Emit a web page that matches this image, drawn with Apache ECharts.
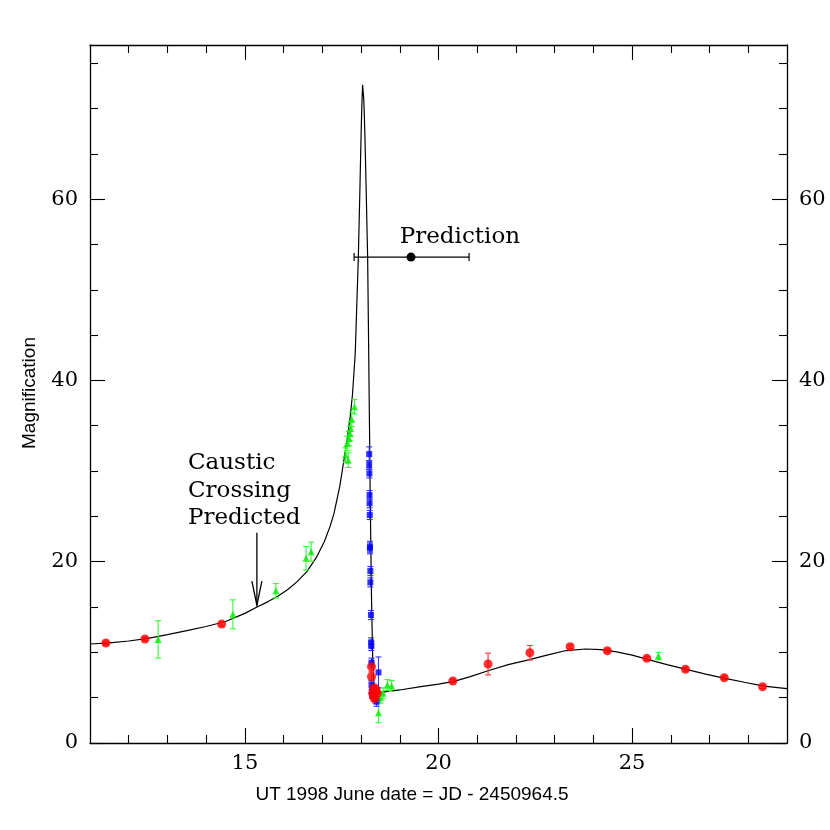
<!DOCTYPE html>
<html><head><meta charset="utf-8">
<script src="https://cdn.jsdelivr.net/npm/echarts@6/dist/echarts.min.js"></script>
<style>html,body{margin:0;padding:0;background:#fff}#c{width:830px;height:830px}</style>
</head><body><div id="c"></div>
<script>
// ---- data ----
const curveX = [11.0,11.5,12.0,12.5,13.0,13.5,14.0,14.5,15.0,15.3,15.6,15.85,16.1,16.35,16.6,16.85,17.05,17.2,17.3,17.45,17.55,17.65,17.72,17.78,17.85,17.93,17.97,18.0,18.02,18.04,18.055,18.07,18.085,18.1,18.13,18.15,18.17,18.19,18.21,18.24,18.27,18.3,18.33,18.37,18.4,18.6,19.0,19.5,20.0,20.4,20.8,21.3,21.8,22.3,22.8,23.3,23.8,24.2,24.6,25.0,25.4,25.9,26.4,26.9,27.4,27.9,28.4,29.0];
const curveY = [10.92,11.05,11.25,11.55,11.95,12.4,12.85,13.4,14.3,14.97,15.6,16.2,16.9,17.8,18.9,20.5,22.2,23.9,25.3,28.3,31.0,33.8,36.0,38.5,43.0,53.6,61.0,66.9,70.3,72.6,72.4,71.0,69.2,66.9,61.5,57.5,53.6,46.0,38.0,26.0,16.0,9.5,6.5,5.6,5.55,5.65,5.85,6.2,6.5,6.8,7.3,8.0,8.65,9.15,9.7,10.2,10.37,10.3,10.05,9.7,9.23,8.65,8.13,7.6,7.13,6.7,6.28,6.0];

const redX = [11.41,12.42,14.40,18.27,18.27,18.33,18.39,18.42,18.32,18.36,18.30,18.38,20.37,21.28,22.36,23.40,24.36,25.38,26.38,27.38,28.37];
const redY = [11.03,11.47,13.12,8.41,7.31,6.02,5.66,5.48,5.1,4.92,5.5,5.9,6.84,8.71,9.96,10.62,10.18,9.34,8.13,7.2,6.21];
const redErr = [0.2,0.2,0.2,0.5,0.5,0.5,0.5,0.5,0.5,0.5,0.5,0.5,0.2,1.2,0.8,0.2,0.2,0.2,0.2,0.2,0.2];

const greenX = [12.76,14.69,15.80,16.58,16.71,17.60,17.64,17.67,17.69,17.71,17.73,17.76,17.83,18.45,18.57,18.68,18.79,18.50,25.68];
const greenY = [11.43,14.19,16.8,20.37,21.1,31.76,33.05,31.2,33.6,34.15,34.7,35.7,37.1,3.34,5.48,6.4,6.29,5.0,9.6];
const greenErr = [2.06,1.6,0.8,1.3,1.05,0.8,0.8,0.8,0.8,0.8,0.8,0.8,0.8,1.1,0.6,0.6,0.6,0.6,0.4];

const blueX = [18.21,18.21,18.215,18.22,18.22,18.225,18.23,18.23,18.24,18.24,18.255,18.26,18.265,18.27,18.45,18.27,18.28,18.40];
const blueY = [31.87,30.66,29.74,27.35,26.44,25.15,21.65,21.47,18.97,17.72,14.12,11.1,10.7,8.86,7.79,6.4,5.48,4.55];
const blueErr = [0.8,0.5,0.5,0.5,0.5,0.5,0.6,0.6,0.5,0.5,0.5,0.5,0.5,0.5,1.7,0.5,0.5,0.5];

const predX = 19.29, predY = 53.6, predLow = 17.82, predHigh = 20.79;
const arrowX = 15.31, arrowFromY = 23.2, arrowToY = 15.2;

const xTickLabels = [15, 20, 25];
const yTickLabels = [0, 20, 40, 60];
const xMinorTicks = [12,13,14,16,17,18,19,21,22,23,24,26,27,28];
const yMinorTicks = [5,10,15,25,30,35,45,50,55,65,70,75];

const annotations = [
  {x: 19.0, y: 55.8, text: 'Prediction'},
  {x: 13.53, y: 30.9, text: 'Caustic'},
  {x: 13.53, y: 27.8, text: 'Crossing'},
  {x: 13.53, y: 24.8, text: 'Predicted'}
];

// ---- chart ----
const chart = echarts.init(document.getElementById('c'), null, {renderer: 'canvas'});
const serif = 'DejaVu Serif';
const XMIN = 11, XMAX = 29, YMIN = 0, YMAX = 77;

function xAxisDef(pos, major, withLabels) {
  return {
    type: 'value', position: pos, min: XMIN, max: XMAX, gridIndex: 0,
    axisLine: {show: !major, onZero: false, lineStyle: {color: '#000', width: 1.3}},
    axisTick: {show: true, inside: true, length: major ? 15 : 8, customValues: major ? xTickLabels : xMinorTicks,
      lineStyle: {color: '#000', width: 1.1}},
    axisLabel: {show: withLabels, customValues: xTickLabels, fontFamily: serif, fontSize: 21, color: '#000', margin: 10},
    splitLine: {show: false}
  };
}
function yAxisDef(pos, major, withLabels) {
  return {
    type: 'value', position: pos, min: YMIN, max: YMAX, gridIndex: 0,
    axisLine: {show: !major, onZero: false, lineStyle: {color: '#000', width: 1.3}},
    axisTick: {show: true, inside: true, length: major ? 15 : 8, customValues: major ? yTickLabels : yMinorTicks,
      lineStyle: {color: '#000', width: 1.1}},
    axisLabel: {show: withLabels, customValues: yTickLabels, fontFamily: serif, fontSize: 21, color: '#000', margin: 12},
    splitLine: {show: false}
  };
}

function errData(xs, ys, es) { return xs.map((x, i) => [x, ys[i] - es[i], ys[i] + es[i]]); }
function ptData(xs, ys) { return xs.map((x, i) => [x, ys[i]]); }

function vErrRender(color) {
  return function (params, api) {
    const lo = api.coord([api.value(0), api.value(1)]);
    const hi = api.coord([api.value(0), api.value(2)]);
    const w = 3;
    const st = {stroke: color, lineWidth: 1.1};
    return {type: 'group', children: [
      {type: 'line', shape: {x1: lo[0], y1: lo[1], x2: hi[0], y2: hi[1]}, style: st},
      {type: 'line', shape: {x1: lo[0]-w, y1: lo[1], x2: lo[0]+w, y2: lo[1]}, style: st},
      {type: 'line', shape: {x1: hi[0]-w, y1: hi[1], x2: hi[0]+w, y2: hi[1]}, style: st}
    ]};
  };
}

const option = {
  animation: false,
  backgroundColor: '#fff',
  grid: {left: 90, right: 43, top: 45, bottom: 87, containLabel: false},
  xAxis: [xAxisDef('bottom', false, true), xAxisDef('bottom', true, false), xAxisDef('top', false, false), xAxisDef('top', true, false)],
  yAxis: [yAxisDef('left', false, true), yAxisDef('left', true, false), yAxisDef('right', false, true), yAxisDef('right', true, false)],
  graphic: [
    {type: 'text', x: 412, y: 795, style: {text: 'UT 1998 June date = JD - 2450964.5', x: 0, y: 0, align: 'center', verticalAlign: 'middle', font: '19px "Liberation Sans"', fill: '#000'}},
    {type: 'text', x: 30, y: 393, rotation: Math.PI / 2, style: {text: 'Magnification', x: 0, y: 0, align: 'center', verticalAlign: 'middle', font: '19px "Liberation Sans"', fill: '#000'}}
  ],
  series: [
    {type: 'line', name: 'model', data: ptData(curveX, curveY), showSymbol: false, smooth: false,
      lineStyle: {color: '#000', width: 1.2}, z: 2, silent: true},
    {type: 'custom', name: 'redErr', data: errData(redX, redY, redErr), renderItem: vErrRender('#ff3030'), z: 3},
    {type: 'custom', name: 'greenErr', data: errData(greenX, greenY, greenErr), renderItem: vErrRender('#33ff33'), z: 3},
    {type: 'custom', name: 'blueErr', data: errData(blueX, blueY, blueErr), renderItem: vErrRender('#3333ff'), z: 3},
    {type: 'scatter', name: 'green', data: ptData(greenX, greenY), symbol: 'triangle', symbolSize: 7, itemStyle: {color: '#00ee00'}, z: 4},
    {type: 'scatter', name: 'blue', data: ptData(blueX, blueY), symbol: 'rect', symbolSize: 6, itemStyle: {color: '#0000ff'}, z: 4},
    {type: 'scatter', name: 'red', data: ptData(redX, redY), symbol: 'circle', symbolSize: 9, itemStyle: {color: '#ff0000'}, z: 5},
    {type: 'custom', name: 'prediction', data: [[predX, predY, predLow, predHigh]], z: 6,
      renderItem: function (params, api) {
        const c = api.coord([api.value(0), api.value(1)]);
        const l = api.coord([api.value(2), api.value(1)]);
        const r = api.coord([api.value(3), api.value(1)]);
        const st = {stroke: '#000', lineWidth: 1.2};
        return {type: 'group', children: [
          {type: 'line', shape: {x1: l[0], y1: l[1], x2: r[0], y2: r[1]}, style: st},
          {type: 'line', shape: {x1: l[0], y1: l[1]-4, x2: l[0], y2: l[1]+4}, style: st},
          {type: 'line', shape: {x1: r[0], y1: r[1]-4, x2: r[0], y2: r[1]+4}, style: st},
          {type: 'circle', shape: {cx: c[0], cy: c[1], r: 4.5}, style: {fill: '#000'}}
        ]};
      }},
    {type: 'custom', name: 'arrow', data: [[arrowX, arrowFromY, arrowToY]], z: 6,
      renderItem: function (params, api) {
        const a = api.coord([api.value(0), api.value(1)]);
        const b = api.coord([api.value(0), api.value(2)]);
        const st = {stroke: '#000', lineWidth: 1.3, fill: null};
        return {type: 'group', children: [
          {type: 'line', shape: {x1: a[0], y1: a[1], x2: b[0], y2: b[1]}, style: st},
          {type: 'polyline', shape: {points: [[b[0]-5, b[1]-24], [b[0], b[1]], [b[0]+5, b[1]-24]]}, style: st}
        ]};
      }},
    {type: 'custom', name: 'annotations', data: annotations.map((a, i) => [a.x, a.y, i]), z: 6,
      renderItem: function (params, api) {
        const p = api.coord([api.value(0), api.value(1)]);
        return {type: 'text', x: p[0], y: p[1], style: {text: annotations[api.value(2)].text, align: 'left', verticalAlign: 'middle',
          font: '23px "DejaVu Serif"', fill: '#000'}};
      }}
  ]
};
chart.setOption(option);
</script>
</body></html>
